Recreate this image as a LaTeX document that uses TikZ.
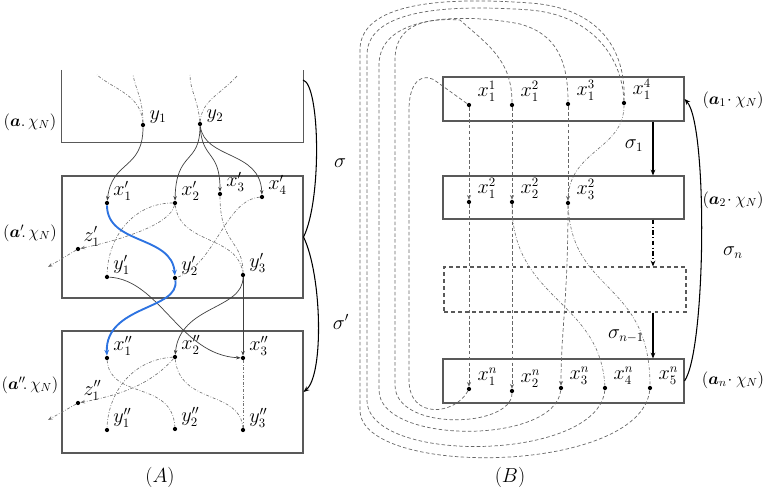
\documentclass[tikz,border=0pt]{standalone}
\usepackage{amsmath,amssymb}
\usetikzlibrary{arrows.meta,calc,fit}

\begin{document}
\begin{tikzpicture}[x=0.03cm,y=-0.03cm,font=\fontsize{14}{16}\selectfont]
\tikzset{
  statedot/.style={circle,fill=black,inner sep=0pt,minimum size=3.6pt},
  lab/.style={inner sep=0.5pt,xshift=3pt,font=\fontsize{16}{18}\selectfont},
  blab/.style={inner sep=0.5pt,xshift=5pt,yshift=1pt,font=\fontsize{16}{18}\selectfont},
  siglab/.style={font=\fontsize{16}{18}\selectfont},
  boxline/.style={draw=black!65,line width=0.9pt},
  boxframe/.style={boxline,inner sep=0pt},
  flowedge/.style={draw=black!75,line width=0.6pt,-{Stealth[length=4pt,width=3pt]}},
  traceedge/.style={draw=black!55,line width=0.55pt,dash pattern=on 2.5pt off 1.5pt on 0.6pt off 1.5pt},
  loopedge/.style={draw=black!60,line width=0.6pt,dash pattern=on 3pt off 2pt},
  vlink/.style={loopedge,-{Stealth[length=4pt,width=3.5pt]}},
  bluepath/.style={draw={rgb,255:red,45;green,115;blue,225},line width=1.6pt,-{Stealth[length=5pt,width=4pt]}},
  mapedge/.style={draw=black,line width=0.9pt,-{Stealth[length=5pt,width=4pt]}}
}
\useasboundingbox (0,0) rectangle (770,487);

% (A) boxes
\node[inner sep=0pt,fit={(62,70) (303,142)}] (box_A0) {};
\draw[boxline] (box_A0.north west) |- (box_A0.south east) -- (box_A0.north east);
\node[boxframe,fit={(62,176) (303,298)}] (box_A1) {};
\node[boxframe,fit={(62,331) (303,453)}] (box_A2) {};
\node (lab_A0) at (30,122) {$(\boldsymbol{a}.\,\chi_N)$};
\node (lab_A1) at (30,233) {$(\boldsymbol{a}'\!.\,\chi_N)$};
\node (lab_A2) at (30,385) {$(\boldsymbol{a}''\!.\,\chi_N)$};

% (A) states
\node[statedot,label={[lab]10:$y_1$}] (n_y1) at (143,125) {};
\node[statedot,label={[lab]10:$y_2$}] (n_y2) at (200,124) {};
\node[statedot,label={[lab]35:$x'_1$}] (n_xp1) at (107,203) {};
\node[statedot,label={[lab]35:$x'_2$}] (n_xp2) at (175,203) {};
\node[statedot,label={[lab]35:$x'_3$}] (n_xp3) at (220,194) {};
\node[statedot,label={[lab]35:$x'_4$}] (n_xp4) at (262,197) {};
\node[statedot,label={[lab]60:$z'_1$}] (n_zp1) at (78,249) {};
\node[statedot,label={[lab]35:$y'_1$}] (n_yp1) at (107,277) {};
\node[statedot,label={[lab]35:$y'_2$}] (n_yp2) at (175,278) {};
\node[statedot,label={[lab]35:$y'_3$}] (n_yp3) at (243,275) {};
\node[statedot,label={[lab]35:$x''_1$}] (n_xpp1) at (107,358) {};
\node[statedot,label={[lab]35:$x''_2$}] (n_xpp2) at (175,357) {};
\node[statedot,label={[lab]35:$x''_3$}] (n_xpp3) at (243,358) {};
\node[statedot,label={[lab]60:$z''_1$}] (n_zpp1) at (78,403) {};
\node[statedot,label={[lab]35:$y''_1$}] (n_ypp1) at (107,430) {};
\node[statedot,label={[lab]35:$y''_2$}] (n_ypp2) at (175,429) {};
\node[statedot,label={[lab]35:$y''_3$}] (n_ypp3) at (243,430) {};
\coordinate (c_y1a) at (97,75);
\coordinate (c_y1b) at (133,75);
\coordinate (c_y2a) at (190,75);
\coordinate (c_y2b) at (238,75);
\coordinate (c_zp) at (48,267);
\coordinate (c_zpp) at (48,420);
\coordinate (c_sg) at (303,80);

% (A) traces
\draw[traceedge] (n_y1) .. controls (141,95) and (115,90) .. (c_y1a);
\draw[traceedge] (n_y1) .. controls (143,100) and (136,90) .. (c_y1b);
\draw[traceedge] (n_y2) .. controls (198,100) and (190,90) .. (c_y2a);
\draw[traceedge] (n_y2) .. controls (202,100) and (220,95) .. (c_y2b);
\draw[traceedge] (n_xp2) .. controls (135,203) and (108,235) .. (n_yp1);
\draw[traceedge,-{Stealth[length=4pt,width=3pt]}] (n_xp2) .. controls (170,225) and (120,240) .. (n_zp1);
\draw[traceedge] (n_xp2) .. controls (180,245) and (238,235) .. (n_yp3);
\draw[traceedge] (n_xp4) .. controls (225,200) and (215,265) .. (n_yp2);
\draw[traceedge] (n_xp3) .. controls (220,245) and (243,240) .. (n_yp3);
\draw[traceedge,-{Stealth[length=4pt,width=3pt]}] (n_zp1) -- (c_zp);
\draw[traceedge] (n_xpp1) .. controls (110,400) and (172,380) .. (n_ypp2);
\draw[traceedge] (n_xpp2) .. controls (130,360) and (108,395) .. (n_ypp1);
\draw[traceedge] (n_xpp2) .. controls (180,405) and (240,390) .. (n_ypp3);
\draw[traceedge] (n_xpp3) -- (n_ypp3);
\draw[traceedge,-{Stealth[length=4pt,width=3pt]}] (n_xpp2) .. controls (150,385) and (120,395) .. (n_zpp1);
\draw[traceedge,-{Stealth[length=4pt,width=3pt]}] (n_zpp1) -- (c_zpp);

% (A) flows
\draw[flowedge] (n_y1) .. controls (143,170) and (112,160) .. (n_xp1);
\draw[flowedge] (n_y2) .. controls (200,165) and (176,150) .. (n_xp2);
\draw[flowedge] (n_y2) .. controls (202,160) and (220,150) .. (n_xp3);
\draw[flowedge] (n_y2) .. controls (205,160) and (260,150) .. (n_xp4);
\draw[flowedge] (n_yp1) .. controls (160,280) and (180,355) .. (n_xpp3);
\draw[flowedge] (n_yp3) .. controls (243,310) and (180,305) .. (n_xpp2);
\draw[flowedge] (n_yp3) -- (n_xpp3);
\draw[bluepath] (n_xp1) .. controls (107,245) and (172,235) .. (n_yp2);
\draw[bluepath] (n_yp2) .. controls (180,310) and (105,305) .. (n_xpp1);

% sigma, sigma'
\draw[mapedge,-] (c_sg) .. controls (320,84) and (322,200) .. (box_A1.east);
\draw[mapedge] (box_A1.east) .. controls (322,275) and (324,375) .. (box_A2.east);
\node[siglab] (lab_sg) at (340,163) {$\sigma$};
\node[siglab] (lab_sgp) at (341,322) {$\sigma'$};
\node[siglab] (lab_A) at (160,477) {$(A)$};

% (B) boxes
\node[boxframe,fit={(443,77) (684,121)}] (box_B1) {};
\node[boxframe,fit={(443,176) (684,219)}] (box_B2) {};
\node[boxframe,dashed,fit={(444,267) (686,312)}] (box_B3) {};
\node[boxframe,fit={(443,359) (684,403)}] (box_B4) {};
\node (lab_B1) at (733,100) {$(\boldsymbol{a}_1\!\cdot\chi_N)$};
\node (lab_B2) at (733,200) {$(\boldsymbol{a}_2\!\cdot\chi_N)$};
\node (lab_Bn) at (733,380) {$(\boldsymbol{a}_n\!\cdot\chi_N)$};

% (B) states
\node[statedot,label={[blab]35:$x_1^1$}] (n_B11) at (469,105) {};
\node[statedot,label={[blab]35:$x_1^2$}] (n_B12) at (512,105) {};
\node[statedot,label={[blab]35:$x_1^3$}] (n_B13) at (568,104) {};
\node[statedot,label={[blab]35:$x_1^4$}] (n_B14) at (624,103) {};
\node[statedot,label={[blab]35:$x_1^2$}] (n_B21) at (469,202) {};
\node[statedot,label={[blab]35:$x_2^2$}] (n_B22) at (512,202) {};
\node[statedot,label={[blab]35:$x_3^2$}] (n_B23) at (568,203) {};
\node[statedot,label={[blab]35:$x_1^n$}] (n_Bn1) at (469,389) {};
\node[statedot,label={[blab]35:$x_2^n$}] (n_Bn2) at (512,391) {};
\node[statedot,label={[blab]35:$x_3^n$}] (n_Bn3) at (561,388) {};
\node[statedot,label={[blab]35:$x_4^n$}] (n_Bn4) at (605,388) {};
\node[statedot,label={[blab]35:$x_5^n$}] (n_Bn5) at (650,388) {};
\coordinate (c_sx) at (653,0);

% (B) links
\draw[vlink] (n_B11) -- (n_B21);
\draw[vlink] (n_B21) -- (n_Bn1);
\draw[vlink] (n_B12) -- (n_B22);
\draw[vlink] (n_B22) -- (n_Bn2);
\draw[vlink] (n_B13) -- (n_B23);
\draw[vlink] (n_B23) .. controls (568,300) and (561,330) .. (n_Bn3);
\draw[traceedge] (n_B14) .. controls (624,150) and (568,150) .. (n_B23);
\draw[traceedge] (n_B22) .. controls (512,300) and (600,300) .. (n_Bn4);
\draw[traceedge] (n_B23) .. controls (572,295) and (650,280) .. (n_Bn5);
\draw[loopedge] (n_Bn1) .. controls (455,415) and (409,420) .. (409,380) -- (409,110)
  .. controls (409,78) and (425,72) .. (437,82) -- (n_B11);
\draw[loopedge] (n_Bn2) .. controls (512,428) and (395,432) .. (395,385) -- (395,60)
  .. controls (395,22) and (430,18) .. (460,20) .. controls (488,45) and (512,60) .. (n_B12);
\draw[loopedge] (n_Bn3) .. controls (555,445) and (379,445) .. (379,390) -- (379,65)
  .. controls (379,12) and (470,14) .. (520,24) .. controls (556,34) and (568,60) .. (n_B13);
\draw[loopedge] (n_Bn4) .. controls (598,462) and (367,465) .. (367,400) -- (367,55)
  .. controls (367,6) and (460,5) .. (530,10) .. controls (590,15) and (622,55) .. (n_B14);
\draw[loopedge] (n_Bn5) .. controls (640,475) and (360,478) .. (360,410) -- (360,50)
  .. controls (360,-2) and (460,-2) .. (530,3) .. controls (600,8) and (626,50) .. (n_B14);

% sigma_1 ... sigma_n
\draw[mapedge] (box_B1.south -| c_sx) -- (box_B2.north -| c_sx);
\draw[mapedge,dash pattern=on 4pt off 2pt on 1pt off 2pt] (box_B2.south -| c_sx) -- (box_B3.north -| c_sx);
\draw[mapedge] (box_B3.south -| c_sx) -- (box_B4.north -| c_sx);
\draw[mapedge] (box_B4.east) .. controls (706,350) and (708,125) .. (box_B1.east);
\node[siglab] (lab_s1) at (634,146) {$\sigma_1$};
\node[siglab] (lab_sn1) at (626,336) {$\sigma_{n-1}$};
\node[siglab] (lab_sn) at (733,253) {$\sigma_n$};
\node[siglab] (lab_B) at (510,477) {$(B)$};
\end{tikzpicture}
\end{document}
